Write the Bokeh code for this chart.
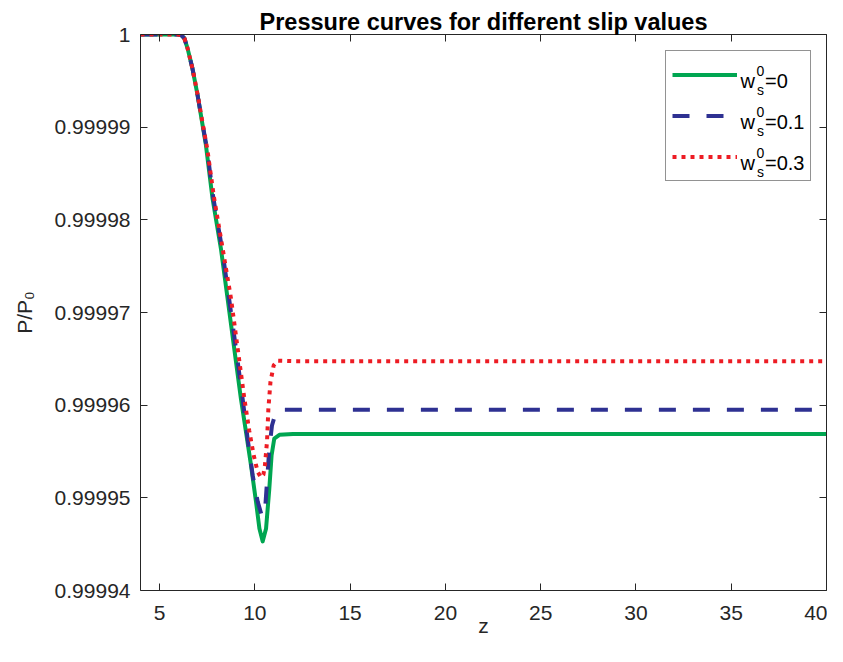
from bokeh.plotting import figure
from bokeh.models import (Range1d, FixedTicker, LinearAxis, Legend, LegendItem, Label,
                          CustomJSTickFormatter)
from bokeh.embed import file_html
from bokeh.resources import INLINE

# ---- data ----
z_w0 = [4, 6.0, 6.15, 6.3, 6.47, 6.73, 7.0, 7.26, 7.43, 7.78, 8.22, 8.57, 8.92, 9.27,
        9.53, 9.80, 10.06, 10.24, 10.41, 10.59, 10.76, 10.88, 11.02, 11.29, 12, 40]
p_w0 = [1.0, 1.0, 0.9999999, 0.9999996, 0.9999985, 0.9999963, 0.9999934, 0.9999902,
        0.9999881, 0.9999823, 0.9999769, 0.9999715, 0.9999661, 0.9999607, 0.9999572,
        0.9999535, 0.9999496, 0.9999467, 0.9999453, 0.9999467, 0.9999510, 0.9999546,
        0.9999564, 0.9999568, 0.9999569, 0.9999569]

z_w01 = [4, 6.0, 6.15, 6.3, 6.47, 6.73, 7.0, 7.26, 7.48, 7.82, 8.28, 8.65, 9.01, 9.36,
         9.62, 9.89, 10.15, 10.36, 10.45, 10.53, 10.64, 10.76, 10.9, 11.11, 11.37, 12, 40]
p_w01 = [1.0, 1.0, 0.9999999, 0.9999996, 0.9999985, 0.9999963, 0.9999934, 0.9999903,
         0.9999878, 0.9999824, 0.9999769, 0.9999715, 0.9999661, 0.9999607, 0.9999564,
         0.9999524, 0.9999496, 0.9999481, 0.9999480, 0.9999485, 0.9999518, 0.9999553,
         0.9999578, 0.9999593, 0.9999595, 0.9999595, 0.9999595]

z_w03 = [4, 6.0, 6.15, 6.3, 6.47, 6.73, 7.0, 7.26, 7.5, 7.85, 8.31, 8.75, 9.10, 9.45,
         9.71, 9.94, 10.15, 10.32, 10.45, 10.53, 10.64, 10.71, 10.82, 10.99, 11.2, 12, 40]
p_w03 = [1.0, 1.0, 0.9999999, 0.9999996, 0.9999985, 0.9999963, 0.9999935, 0.9999904,
         0.9999877, 0.9999825, 0.9999769, 0.9999715, 0.9999661, 0.9999607, 0.9999572,
         0.9999546, 0.9999528, 0.9999522, 0.9999525, 0.9999535, 0.9999561, 0.9999596,
         0.9999625, 0.9999643, 0.9999648, 0.99996475, 0.99996475]

slip_values = ["0", "0.1", "0.3"]
x_ticks = [5, 10, 15, 20, 25, 30, 35, 40]
y_ticks = [0.99994, 0.99995, 0.99996, 0.99997, 0.99998, 0.99999, 1.0]
y_tick_labels = ["0.99994", "0.99995", "0.99996", "0.99997", "0.99998", "0.99999", "1"]

FONT = "Liberation Sans"
AX = "#262626"
GREEN = "#00A651"
BLUE = "#2E3192"
RED = "#ED1C24"

p = figure(width=827, height=646, output_backend="svg", toolbar_location=None,
           x_range=Range1d(4, 40), y_range=Range1d(0.99994, 1.0),
           min_border_left=140, min_border_right=1, min_border_top=34, min_border_bottom=56,
           title="Pressure curves for different slip values")
xa = p.xaxis[0]
ya = p.yaxis[0]
p.grid.visible = False
p.outline_line_color = None
p.background_fill_color = "white"
p.border_fill_color = "white"

p.title.text_font = FONT
p.title.text_font_size = "23.5px"
p.title.text_font_style = "bold"
p.title.align = "center"
p.title.text_color = "black"
p.title.standoff = 0


def style_axis(ax, ticks, show):
    ax.ticker = FixedTicker(ticks=ticks)
    ax.major_tick_in = 7
    ax.major_tick_out = 0
    ax.minor_tick_in = 0
    ax.minor_tick_out = 0
    ax.axis_line_color = AX
    ax.major_tick_line_color = AX
    ax.major_label_text_font = FONT
    ax.major_label_text_font_size = "21px"
    ax.major_label_text_color = AX
    if not show:
        ax.formatter = CustomJSTickFormatter(code="return ''")
        ax.major_label_standoff = 0
        ax.axis_label_standoff = 0


style_axis(xa, x_ticks, True)
style_axis(ya, y_ticks, True)
ya.major_label_overrides = dict(zip(y_ticks, y_tick_labels))
xa.major_label_standoff = 15
ya.major_label_standoff = 10
xa.axis_label = "z"
ya.axis_label = "P/P\u2080"
for ax in (xa, ya):
    ax.axis_label_text_font = FONT
    ax.axis_label_text_font_size = "21px"
    ax.axis_label_text_font_style = "normal"
    ax.axis_label_text_color = AX
xa.axis_label_standoff = -9
ya.axis_label_standoff = 16

top = LinearAxis()
style_axis(top, x_ticks, False)
p.add_layout(top, "above")
right = LinearAxis()
style_axis(right, y_ticks, False)
p.add_layout(right, "right")

g = p.line(z_w0, p_w0, line_color=GREEN, line_width=4, line_join="round")
b = p.line(z_w01, p_w01, line_color=BLUE, line_width=4, line_dash="17 17", line_join="round")
r = p.line(z_w03, p_w03, line_color=RED, line_width=4, line_dash="4 5", line_join="round")

LEG_X, LEG_Y = 525, 409
PAD, GW, GH, SP, STAND, LW = 6, 65, 35, 6, 4, 63
legend = Legend(items=[LegendItem(label=" ", renderers=[rr]) for rr in (g, b, r)],
                location=(LEG_X, LEG_Y), glyph_width=GW, glyph_height=GH,
                label_width=LW, label_height=GH, label_standoff=STAND, padding=PAD,
                spacing=SP, margin=0, title_standoff=0, border_line_color=AX,
                border_line_width=1, background_fill_color="white",
                background_fill_alpha=0.0)
p.add_layout(legend)

leg_top = LEG_Y + 2 * PAD + 3 * GH + 2 * SP
text_x = LEG_X + PAD + GW + STAND
for i, sv in enumerate(slip_values):
    c = leg_top - PAD - GH / 2 - (GH + SP) * i
    common = dict(x_units="screen", y_units="screen", text_font=FONT,
                  text_color="black", text_baseline="alphabetic", text_align="left")
    p.add_layout(Label(x=text_x, y=c - 5, text="w", text_font_size="20px", **common))
    p.add_layout(Label(x=text_x + 16, y=c + 5.5, text="0", text_font_size="14px", **common))
    p.add_layout(Label(x=text_x + 16.5, y=c - 14, text="s", text_font_size="14px", **common))
    p.add_layout(Label(x=text_x + 24.5, y=c - 5, text="=" + sv, text_font_size="20px", **common))

open("out.html", "w").write(file_html(p, INLINE))
